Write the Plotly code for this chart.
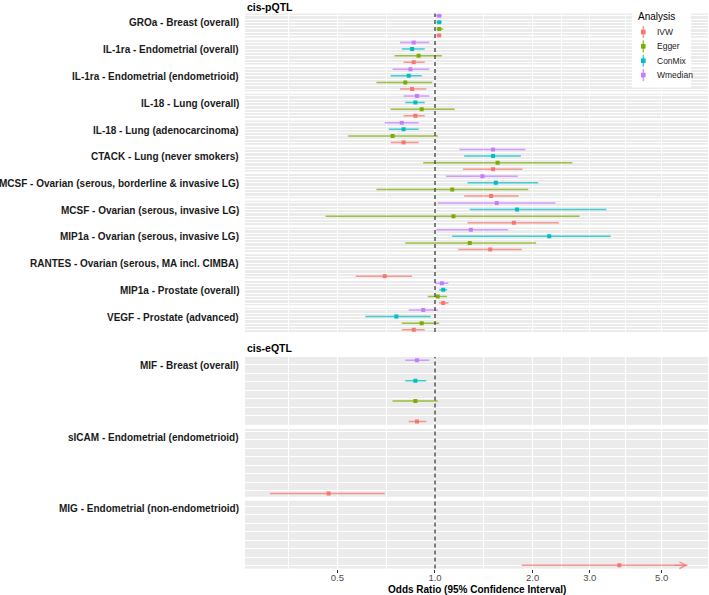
import numpy as np
import plotly.graph_objects as go
from plotly.subplots import make_subplots

# facet labels (pQTL block first, then eQTL block)
PQTL_LABELS = [
    "GROa - Breast (overall)",
    "IL-1ra - Endometrial (overall)",
    "IL-1ra - Endometrial (endometrioid)",
    "IL-18 - Lung (overall)",
    "IL-18 - Lung (adenocarcinoma)",
    "CTACK - Lung (never smokers)",
    "MCSF - Ovarian (serous, borderline & invasive LG)",
    "MCSF - Ovarian (serous, invasive LG)",
    "MIP1a - Ovarian (serous, invasive LG)",
    "RANTES - Ovarian (serous, MA incl. CIMBA)",
    "MIP1a - Prostate (overall)",
    "VEGF - Prostate (advanced)",
]
EQTL_LABELS = [
    "MIF - Breast (overall)",
    "sICAM - Endometrial (endometrioid)",
    "MIG - Endometrial (non-endometrioid)",
]
METHODS = ["IVW", "Egger", "ConMix", "Wmedian"]

# odds ratios and 95% CI, one value per facet (None = not estimated)
IVW_OR = [1.03, 0.86, 0.85, 0.87, 0.80, 1.51, 1.49, 1.75, 1.48, 0.70, 1.06, 0.86, 0.88, 0.47, 3.70]
IVW_LO = [1.01, 0.80, 0.78, 0.80, 0.73, 1.22, 1.23, 1.26, 1.18, 0.57, 1.03, 0.79, 0.83, 0.31, 1.85]
IVW_HI = [1.045, 0.93, 0.94, 0.93, 0.89, 1.86, 1.81, 2.41, 1.85, 0.85, 1.10, 0.93, 0.94, 0.70, 7.40]

EGGER_OR = [1.03, 0.89, 0.81, 0.91, 0.74, 1.56, 1.13, 1.14, 1.28, None, 1.02, 0.91, 0.87, None, None]
EGGER_LO = [1.01, 0.75, 0.66, 0.73, 0.54, 0.92, 0.66, 0.46, 0.81, None, 0.95, 0.79, 0.74, None, None]
EGGER_HI = [1.06, 1.05, 0.98, 1.15, 1.02, 2.65, 1.94, 2.79, 2.05, None, 1.09, 1.03, 1.02, None, None]

CONMIX_OR = [1.03, 0.85, 0.83, 0.87, 0.80, 1.51, 1.54, 1.79, 2.25, None, 1.06, 0.76, 0.87, None, None]
CONMIX_LO = [1.01, 0.79, 0.73, 0.81, 0.72, 1.23, 1.26, 1.28, 1.13, None, 1.03, 0.61, 0.81, None, None]
CONMIX_HI = [1.05, 0.93, 0.91, 0.93, 0.89, 1.84, 2.08, 3.38, 3.48, None, 1.09, 0.97, 0.94, None, None]

WMEDIAN_OR = [1.03, 0.86, 0.84, 0.88, 0.79, 1.51, 1.40, 1.55, 1.29, None, 1.05, 0.92, 0.88, None, None]
WMEDIAN_LO = [1.00, 0.78, 0.74, 0.80, 0.70, 1.19, 1.08, 1.02, 1.01, None, 1.00, 0.83, 0.81, None, None]
WMEDIAN_HI = [1.05, 0.96, 0.96, 0.96, 0.89, 1.90, 1.80, 2.35, 1.68, None, 1.10, 1.02, 0.96, None, None]

X_TICKS = [0.5, 1, 2, 3, 5]
X_TICK_TEXT = ["0.5", "1.0", "2.0", "3.0", "5.0"]
X_MINOR = [0.354, 0.707, 1.414, 2.449, 3.873]
X_CLIP = 6.0  # CIs beyond this are drawn as arrows

COLORS = {"IVW": "#F8766D", "Egger": "#7CAE00", "ConMix": "#00BFC4", "Wmedian": "#C77CFF"}
ESTIMATES = {
    "IVW": (IVW_OR, IVW_LO, IVW_HI),
    "Egger": (EGGER_OR, EGGER_LO, EGGER_HI),
    "ConMix": (CONMIX_OR, CONMIX_LO, CONMIX_HI),
    "Wmedian": (WMEDIAN_OR, WMEDIAN_LO, WMEDIAN_HI),
}

LABELS = PQTL_LABELS + EQTL_LABELS
N = len(LABELS)
W, H = 709, 595
L_MARGIN, R_MARGIN = 245, 1
FONT = "Liberation Sans, Arial, sans-serif"


def py(px):
    return 1 - px / H


def pxx(px):
    return (px - L_MARGIN) / (W - L_MARGIN - R_MARGIN)


def rgba(hex_color, a):
    h = hex_color.lstrip("#")
    return f"rgba({int(h[0:2], 16)},{int(h[2:4], 16)},{int(h[4:6], 16)},{a})"


# panel pixel extents (top, bottom)
panels = [(13.5 + 26.75 * k, 13.5 + 26.75 * k + 24.3) for k in range(len(PQTL_LABELS))]
panels += [(357, 424.8), (429, 496.8), (500.8, 568.6)]
EQTL_GRID_START = [2.77, 3.04, 2.88]

fig = make_subplots(rows=N, cols=1, shared_xaxes=True, vertical_spacing=0.001)

for i in range(N):
    for m in METHODS:
        ors, los, his = ESTIMATES[m]
        if ors[i] is None:
            continue
        hi = min(his[i], X_CLIP)
        fig.add_trace(
            go.Scatter(
                x=[ors[i]],
                y=[METHODS.index(m)],
                mode="markers",
                marker=dict(symbol="square", size=4, color=COLORS[m]),
                error_x=dict(
                    type="data",
                    symmetric=False,
                    array=[hi - ors[i]],
                    arrayminus=[ors[i] - los[i]],
                    color=rgba(COLORS[m], 0.75),
                    thickness=1.5,
                    width=0,
                ),
                name=m,
                showlegend=False,
            ),
            row=i + 1,
            col=1,
        )
        if his[i] > X_CLIP:
            ref = "" if i == 0 else str(i + 1)
            fig.add_annotation(
                x=np.log10(X_CLIP), y=METHODS.index(m),
                ax=np.log10(X_CLIP * 0.9), ay=METHODS.index(m),
                xref="x" + ref, yref="y" + ref, axref="x" + ref, ayref="y" + ref,
                text="", showarrow=True, arrowhead=5, arrowsize=1.3,
                arrowwidth=1, arrowcolor=rgba(COLORS[m], 0.85),
            )

# axes
for i in range(N):
    ref = "" if i == 0 else str(i + 1)
    top, bot = panels[i]
    ydict = dict(
        domain=[py(bot), py(top)],
        showticklabels=False,
        ticks="",
        zeroline=False,
        showgrid=True,
        gridcolor="white",
        gridwidth=1,
        automargin=False,
    )
    if i < len(PQTL_LABELS):
        ydict.update(range=[-0.33, 3.33], tickmode="linear", tick0=0, dtick=1,
                     minor=dict(tickmode="linear", tick0=0, dtick=0.5, showgrid=True,
                                gridcolor="white", gridwidth=0.6))
    else:
        ydict.update(range=[-0.16, 3.16], tickmode="linear",
                     tick0=EQTL_GRID_START[i - len(PQTL_LABELS)], dtick=0.413)
    xdict = dict(
        type="log",
        range=[-0.5857, 0.8416],
        tickmode="array",
        tickvals=X_TICKS,
        ticktext=X_TICK_TEXT,
        showgrid=True,
        gridcolor="white",
        gridwidth=1,
        zeroline=False,
        automargin=False,
        minor=dict(tickmode="array", tickvals=X_MINOR, showgrid=True,
                   gridcolor="white", gridwidth=0.6),
        showticklabels=(i == N - 1),
        ticks="outside" if i == N - 1 else "",
        ticklen=3,
        tickcolor="#333333",
        ticklabelstandoff=-3,
        tickfont=dict(size=9.5, color="#4D4D4D"),
    )
    fig.layout["yaxis" + ref].update(ydict)
    fig.layout["xaxis" + ref].update(xdict)

    # facet label
    offset = 9.5 if i < len(PQTL_LABELS) else 8
    fig.add_annotation(
        x=0, xref="paper", xshift=-4, xanchor="right",
        y=py(top + offset), yref="paper", yanchor="middle",
        text=LABELS[i], showarrow=False,
        font=dict(size=10, color="#1A1A1A", weight="bold"),
    )

# reference line at OR = 1
for a, b in [(0, len(PQTL_LABELS) - 1), (len(PQTL_LABELS), N - 1)]:
    fig.add_shape(
        type="line", xref="x" + str(N), x0=1, x1=1,
        yref="paper", y0=py(panels[b][1]), y1=py(panels[a][0]),
        line=dict(color="#3A3A3A", width=1.3, dash="4px,3px"),
    )

# block titles and x title
for txt, ypx in [("cis-pQTL", 7), ("cis-eQTL", 347.5)]:
    fig.add_annotation(
        x=0, xref="paper", xanchor="left", y=py(ypx), yref="paper", yanchor="middle",
        text=txt, showarrow=False, font=dict(size=10.5, color="black", weight="bold"),
    )
fig.add_annotation(
    x=0.5, xref="paper", xanchor="center", y=py(589), yref="paper", yanchor="middle",
    text="Odds Ratio (95% Confidence Interval)", showarrow=False,
    font=dict(size=10, color="black", weight="bold"),
)

# legend (ggplot-style keys: vertical range line with a square point)
fig.add_shape(type="rect", xref="paper", yref="paper",
              x0=pxx(632), x1=pxx(691), y0=py(87.5), y1=py(9.5),
              fillcolor="white", line=dict(width=0), layer="above")
fig.add_annotation(x=pxx(636), xref="paper", xanchor="left", y=py(16), yref="paper",
                   yanchor="middle", text="Analysis", showarrow=False,
                   font=dict(size=10, color="black"))
for k, m in enumerate(METHODS):
    yk = 32 + 14.35 * k
    fig.add_shape(type="line", xref="paper", yref="paper",
                  x0=pxx(643.3), x1=pxx(643.3), y0=py(yk + 6), y1=py(yk - 6),
                  line=dict(color=rgba(COLORS[m], 0.75), width=1.5), layer="above")
    fig.add_shape(type="rect", xref="paper", yref="paper",
                  x0=pxx(641), x1=pxx(645.6), y0=py(yk + 2.3), y1=py(yk - 2.3),
                  fillcolor=COLORS[m], line=dict(width=0), layer="above")
    fig.add_annotation(x=pxx(655), xref="paper", xanchor="left", y=py(yk), yref="paper",
                       yanchor="middle", text=m, showarrow=False,
                       font=dict(size=8.5, color="#1A1A1A"))

fig.update_layout(
    width=W,
    height=H,
    margin=dict(l=L_MARGIN, r=R_MARGIN, t=0, b=0, autoexpand=False),
    plot_bgcolor="#EBEBEB",
    paper_bgcolor="white",
    font=dict(family=FONT, color="#1A1A1A"),
    showlegend=False,
)

# the page body has a default 8px margin; drop it so the figure fills the window
fig.write_html(
    "out.html",
    config={"displayModeBar": False},
    post_script="document.body.style.margin = '0';",
)
